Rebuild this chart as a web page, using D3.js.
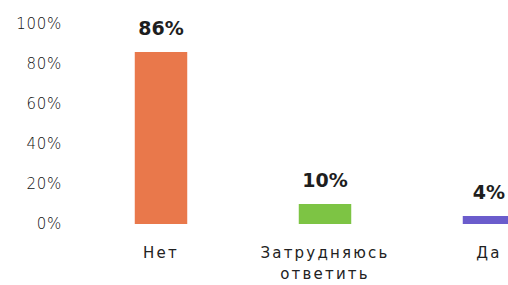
<!DOCTYPE html>
<html><head><meta charset="utf-8">
<script src="https://cdn.jsdelivr.net/npm/d3@7"></script>
<style>
html,body{margin:0;padding:0;background:#fff;overflow:hidden;}
svg{display:block;font-family:"DejaVu Sans",sans-serif;}
</style></head><body>
<svg id="chart" width="508" height="285"></svg>
<script>
const categories = ["Нет", "Затрудняюсь ответить", "Да"];
const values = [86, 10, 4];
const colors = ["#e9784b", "#7dc444", "#6b5ccc"];
const tickValues = [0, 20, 40, 60, 80, 100];

const svg = d3.select("#chart");
const y = d3.scaleLinear().domain([0, 100]).range([224, 24]);
const x = d3.scaleBand().domain(categories).range([79, 571])
  .paddingInner(0.68).paddingOuter(0.34);

const yAxis = d3.axisLeft(y).tickValues(tickValues).tickSize(0).tickPadding(0)
  .tickFormat(d => d + "%");
const gy = svg.append("g").attr("transform", "translate(62,0)").call(yAxis);
gy.select(".domain").remove();
gy.selectAll("text").attr("font-size", 15).attr("fill", "#111")
  .style("font-family", "'DejaVu Sans', sans-serif").style("font-weight", "300")
  .attr("letter-spacing", 0.7);

svg.append("g").selectAll("rect").data(values).join("rect")
  .attr("x", (d, i) => x(categories[i]))
  .attr("width", x.bandwidth())
  .attr("y", d => y(d))
  .attr("height", d => y(0) - y(d))
  .attr("fill", (d, i) => colors[i]);

svg.append("g").selectAll("text").data(values).join("text")
  .attr("x", (d, i) => x(categories[i]) + x.bandwidth() / 2)
  .attr("y", d => y(d) - 17)
  .attr("text-anchor", "middle")
  .attr("font-size", 19).attr("font-weight", "bold").attr("fill", "#1e1e1e")
  .text(d => d + "%");

const labels = svg.append("g").selectAll("text").data(categories).join("text")
  .attr("x", d => x(d) + x.bandwidth() / 2)
  .attr("y", 258)
  .attr("text-anchor", "middle")
  .attr("font-size", 15).attr("fill", "#222")
  .attr("letter-spacing", 2.2);
labels.each(function(d) {
  const t = d3.select(this);
  const cx = x(d) + x.bandwidth() / 2;
  d.split(" ").forEach((w, i) => {
    t.append("tspan").attr("x", cx).attr("dy", i === 0 ? 0 : 21).text(w);
  });
});
</script>
</body></html>
